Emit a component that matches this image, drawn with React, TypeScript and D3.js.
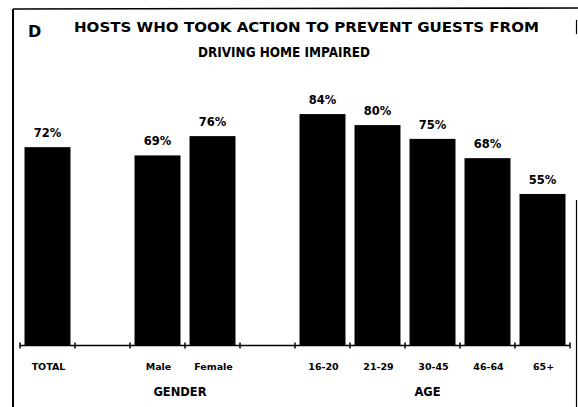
import React from "react";
import * as d3 from "d3";

const categories = ["TOTAL", "gap1", "Male", "Female", "gap2", "16-20", "21-29", "30-45", "46-64", "65+"];
const barCategories = ["TOTAL", "Male", "Female", "16-20", "21-29", "30-45", "46-64", "65+"];
const values = [72, 69, 76, 84, 80, 75, 68, 55];
const valueLabels = ["72%", "69%", "76%", "84%", "80%", "75%", "68%", "55%"];
const groupLabels = [
  { label: "GENDER", members: ["Male", "Female"] },
  { label: "AGE", members: ["30-45"] },
];
const titleLines = ["HOSTS WHO TOOK ACTION TO PREVENT GUESTS FROM", "DRIVING HOME IMPAIRED"];
const panelLetter = "D";

const W = 578;
const H = 407;
const FONT = "'DejaVu Sans', 'Liberation Sans', Arial, sans-serif";

export default function App() {
  const x = d3.scaleBand<string>().domain(categories).range([20, 570]).paddingInner(0.164).paddingOuter(0.082);
  const y = d3.scaleLinear().domain([0, 100]).range([345.5, 70]);
  const step = x.step();
  const x0 = x.range()[0];
  const tickXs = d3.range(categories.length + 1).map((i) => x0 + i * step);
  const cx = (c: string) => (x(c) as number) + x.bandwidth() / 2;

  return (
    <svg
      width={W}
      height={H}
      viewBox={`0 0 ${W} ${H}`}
      style={{ position: "absolute", left: 0, top: 0, background: "#fff" }}
    >
      <rect x={0} y={0} width={W} height={H} fill="#fff" />
      {/* frame */}
      <line x1={13} y1={9} x2={578} y2={8} stroke="#000" strokeWidth={1.6} />
      <line x1={13} y1={9} x2={13} y2={407} stroke="#000" strokeWidth={2} />
      <line x1={576.5} y1={20} x2={576.5} y2={34} stroke="#000" strokeWidth={1.2} />
      <line x1={576.5} y1={200} x2={576.5} y2={407} stroke="#000" strokeWidth={1.2} />

      {/* title */}
      <text x={28} y={36.5} fontFamily={FONT} fontWeight="bold" fontSize={16} fill="#000">
        {panelLetter}
      </text>
      <text
        x={74}
        y={31.5}
        fontFamily={FONT}
        fontWeight="bold"
        fontSize={14.5}
        fill="#000"
        textLength={465}
        lengthAdjust="spacingAndGlyphs"
      >
        {titleLines[0]}
      </text>
      <text
        x={198}
        y={57}
        fontFamily={FONT}
        fontWeight="bold"
        fontSize={14.5}
        fill="#000"
        textLength={172}
        lengthAdjust="spacingAndGlyphs"
      >
        {titleLines[1]}
      </text>

      {/* bars */}
      {barCategories.map((c, i) => (
        <rect
          key={c}
          x={x(c) as number}
          y={y(values[i])}
          width={x.bandwidth()}
          height={y(0) - y(values[i])}
          fill="#000"
        />
      ))}

      {/* value labels */}
      {barCategories.map((c, i) => (
        <text
          key={"v" + c}
          x={cx(c)}
          y={y(values[i]) - 10}
          textAnchor="middle"
          fontFamily={FONT}
          fontWeight="bold"
          fontSize={11.5}
          fill="#000"
        >
          {valueLabels[i]}
        </text>
      ))}

      {/* axis */}
      <line x1={tickXs[0]} y1={y(0)} x2={tickXs[tickXs.length - 1]} y2={y(0)} stroke="#000" strokeWidth={1.5} />
      {tickXs.map((t, i) => (
        <line key={"t" + i} x1={t} y1={y(0) - 3} x2={t} y2={y(0) + 3} stroke="#000" strokeWidth={1.5} />
      ))}

      {/* category labels */}
      {barCategories.map((c) => (
        <text
          key={"c" + c}
          x={cx(c) + 1}
          y={370}
          textAnchor="middle"
          fontFamily={FONT}
          fontWeight="bold"
          fontSize={9.5}
          fill="#000"
        >
          {c}
        </text>
      ))}

      {/* group labels */}
      {groupLabels.map((g) => {
        const xs = g.members.map(cx);
        const mid = (d3.min(xs)! + d3.max(xs)!) / 2;
        return (
          <text
            key={g.label}
            x={mid - 5}
            y={396}
            textAnchor="middle"
            fontFamily={FONT}
            fontWeight="bold"
            fontSize={11.5}
            fill="#000"
          >
            {g.label}
          </text>
        );
      })}
    </svg>
  );
}
